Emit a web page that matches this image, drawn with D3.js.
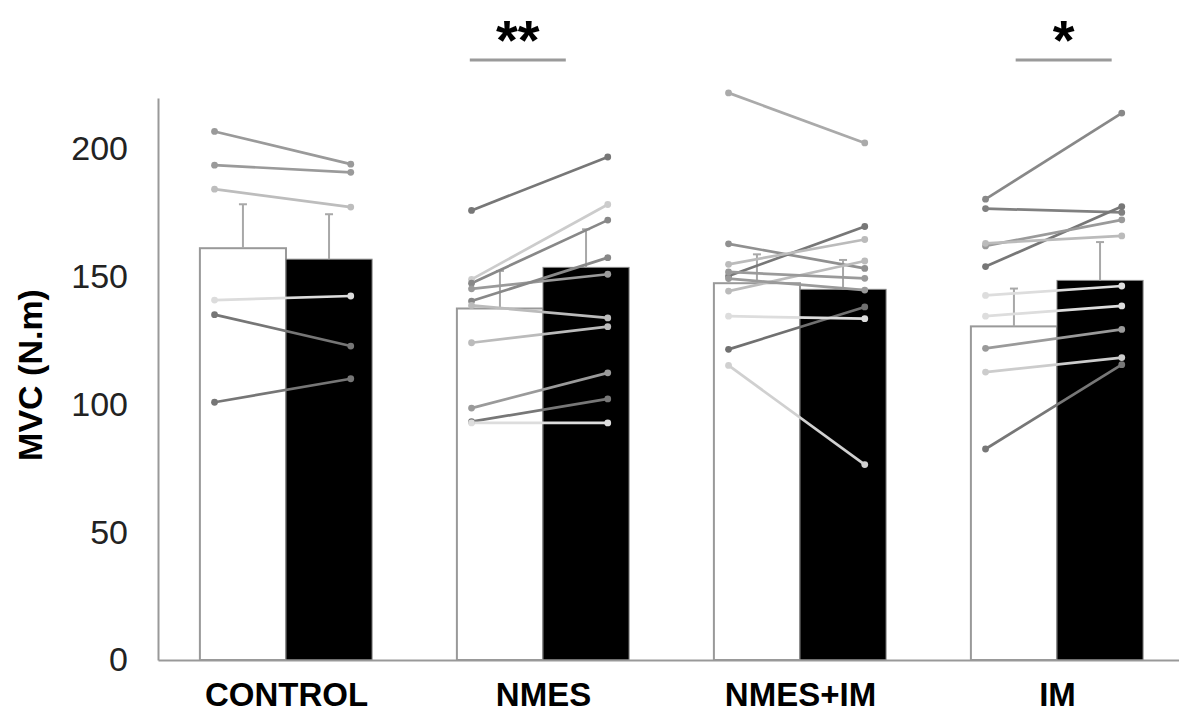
<!DOCTYPE html>
<html><head><meta charset="utf-8">
<script src="https://cdn.jsdelivr.net/npm/d3@7"></script>
<style>body{margin:0;background:#fff}</style>
</head><body>
<svg id="c" width="1179" height="716"></svg>
<script>
// ---- data ----
const groups = ["CONTROL", "NMES", "NMES+IM", "IM"];
const conditions = ["pre", "post"];
const preMeans = [161.2, 137.6, 147.5, 130.6];
const postMeans = [156.9, 153.7, 145.1, 148.6];
const preSD = [17.2, 14.7, 11.3, 14.8];
const postSD = [17.6, 14.9, 11.5, 15.0];
const yTicks = [0, 50, 100, 150, 200];

const controlPre  = [206.9, 193.7, 184.3, 140.9, 135.2, 100.9];
const controlPost = [194.1, 190.9, 177.3, 142.5, 122.9, 110.1];
const controlShade = ["#9a9a9a", "#9a9a9a", "#bdbdbd", "#dcdcdc", "#767676", "#767676"];

const nmesPre  = [176.0, 149.0, 147.5, 145.3, 140.5, 138.8, 124.2, 98.6, 93.3, 92.8];
const nmesPost = [196.9, 178.3, 172.2, 151.0, 157.5, 133.9, 130.5, 112.4, 102.2, 92.8];
const nmesShade = ["#777777", "#cccccc", "#888888", "#9a9a9a", "#888888", "#bbbbbb", "#bbbbbb", "#9a9a9a", "#777777", "#dddddd"];

const nmesImPre  = [222.0, 121.6, 115.3, 134.6, 162.9, 150.3, 154.9, 144.4, 151.9, 149.3];
const nmesImPost = [202.4, 138.2, 76.5, 133.6, 153.3, 169.7, 164.6, 156.2, 149.4, 144.8];
const nmesImShade = ["#aaaaaa", "#707070", "#d0d0d0", "#dddddd", "#909090", "#777777", "#bbbbbb", "#bbbbbb", "#9a9a9a", "#9a9a9a"];

const imPre  = [180.4, 176.7, 154.0, 162.1, 163.1, 142.7, 134.6, 122.0, 112.7, 82.6];
const imPost = [214.1, 175.2, 177.5, 172.3, 166.0, 146.4, 138.6, 129.4, 118.4, 115.6];
const imShade = ["#888888", "#808080", "#777777", "#9a9a9a", "#bbbbbb", "#dddddd", "#dddddd", "#9a9a9a", "#cccccc", "#777777"];

const sigGroups = ["NMES", "IM"];
const sigLabels = ["**", "*"];

// ---- build ----
const subjects = [];
[[controlPre, controlPost, controlShade], [nmesPre, nmesPost, nmesShade],
 [nmesImPre, nmesImPost, nmesImShade], [imPre, imPost, imShade]].forEach((arr, gi) => {
  arr[0].forEach((v, i) => subjects.push({group: groups[gi], pre: v, post: arr[1][i], shade: arr[2][i]}));
});
const bars = [];
groups.forEach((g, i) => {
  bars.push({group: g, cond: "pre", mean: preMeans[i], sd: preSD[i]});
  bars.push({group: g, cond: "post", mean: postMeans[i], sd: postSD[i]});
});

const svg = d3.select("#c");
const y = d3.scaleLinear().domain([0, 220]).range([660, 98]);
const x = d3.scaleBand().domain(groups).range([158, 1186]);
const bw = x.bandwidth();
const xc = d3.scaleBand().domain(conditions).range([0.163 * bw, 0.833 * bw]);
const xp = d3.scalePoint().domain(conditions).range([0.22 * bw, 0.75 * bw]);
const FONT = "Liberation Sans, Arial, sans-serif";

// bars
svg.append("g").selectAll("rect").data(bars).join("rect")
  .attr("x", d => x(d.group) + xc(d.cond))
  .attr("y", d => y(d.mean))
  .attr("width", xc.bandwidth())
  .attr("height", d => y(0) - y(d.mean))
  .attr("fill", d => d.cond === "pre" ? "#fff" : "#000")
  .attr("stroke", d => d.cond === "pre" ? "#999" : "#888")
  .attr("stroke-width", d => d.cond === "pre" ? 2 : 1);

// error bars (upper)
const eb = svg.append("g").attr("stroke", "#a8a8a8").attr("stroke-width", 2);
eb.selectAll("line.v").data(bars).join("line").attr("class", "v")
  .attr("x1", d => x(d.group) + xc(d.cond) + xc.bandwidth() / 2)
  .attr("x2", d => x(d.group) + xc(d.cond) + xc.bandwidth() / 2)
  .attr("y1", d => y(d.mean)).attr("y2", d => y(d.mean + d.sd));
eb.selectAll("line.c").data(bars).join("line").attr("class", "c")
  .attr("x1", d => x(d.group) + xc(d.cond) + xc.bandwidth() / 2 - 4)
  .attr("x2", d => x(d.group) + xc(d.cond) + xc.bandwidth() / 2 + 4)
  .attr("y1", d => y(d.mean + d.sd)).attr("y2", d => y(d.mean + d.sd));

// axes
const ya = svg.append("g").attr("transform", "translate(158,0)")
  .call(d3.axisLeft(y).tickValues(yTicks).tickSize(0).tickSizeOuter(0).tickPadding(30));
ya.select(".domain").attr("stroke", "#999").attr("stroke-width", 2);
ya.selectAll("text").attr("font-family", FONT).attr("font-size", 34).attr("fill", "#222");

const xa = svg.append("g").attr("transform", "translate(0,660)")
  .call(d3.axisBottom(x).tickSize(0).tickSizeOuter(0).tickPadding(23));
xa.select(".domain").attr("stroke", "#999").attr("stroke-width", 2);
xa.selectAll("text").attr("font-family", FONT)
  .attr("font-size", 33).attr("font-weight", "bold").attr("fill", "#000");

svg.append("text")
  .attr("transform", "translate(42," + 375 + ") rotate(-90)")
  .attr("text-anchor", "middle")
  .attr("font-family", FONT)
  .attr("font-size", 34).attr("font-weight", "bold")
  .text("MVC (N.m)");

// subject lines
const sl = svg.append("g");
sl.selectAll("line").data(subjects).join("line")
  .attr("x1", d => x(d.group) + xp("pre")).attr("x2", d => x(d.group) + xp("post"))
  .attr("y1", d => y(d.pre)).attr("y2", d => y(d.post))
  .attr("stroke", d => d.shade).attr("stroke-width", 2.7);
sl.selectAll("circle.a").data(subjects).join("circle").attr("class", "a")
  .attr("cx", d => x(d.group) + xp("pre")).attr("cy", d => y(d.pre)).attr("r", 3.4)
  .attr("fill", d => d.shade);
sl.selectAll("circle.b").data(subjects).join("circle").attr("class", "b")
  .attr("cx", d => x(d.group) + xp("post")).attr("cy", d => y(d.post)).attr("r", 3.4)
  .attr("fill", d => d.shade);

// significance (layout shifts relative to group centre)
const sigShift = [-0.1 * bw, 0.024 * bw];
const sig = svg.append("g");
sigGroups.forEach((g, i) => {
  const cx = x(g) + bw / 2 + sigShift[i];
  sig.append("line").attr("x1", cx - 48).attr("x2", cx + 48).attr("y1", 60).attr("y2", 60)
    .attr("stroke", "#9a9a9a").attr("stroke-width", 3);
  sig.append("text").attr("x", cx).attr("y", 59).attr("text-anchor", "middle")
    .attr("font-family", FONT)
    .attr("font-size", 56).attr("font-weight", "bold").text(sigLabels[i]);
});
</script>
</body></html>
